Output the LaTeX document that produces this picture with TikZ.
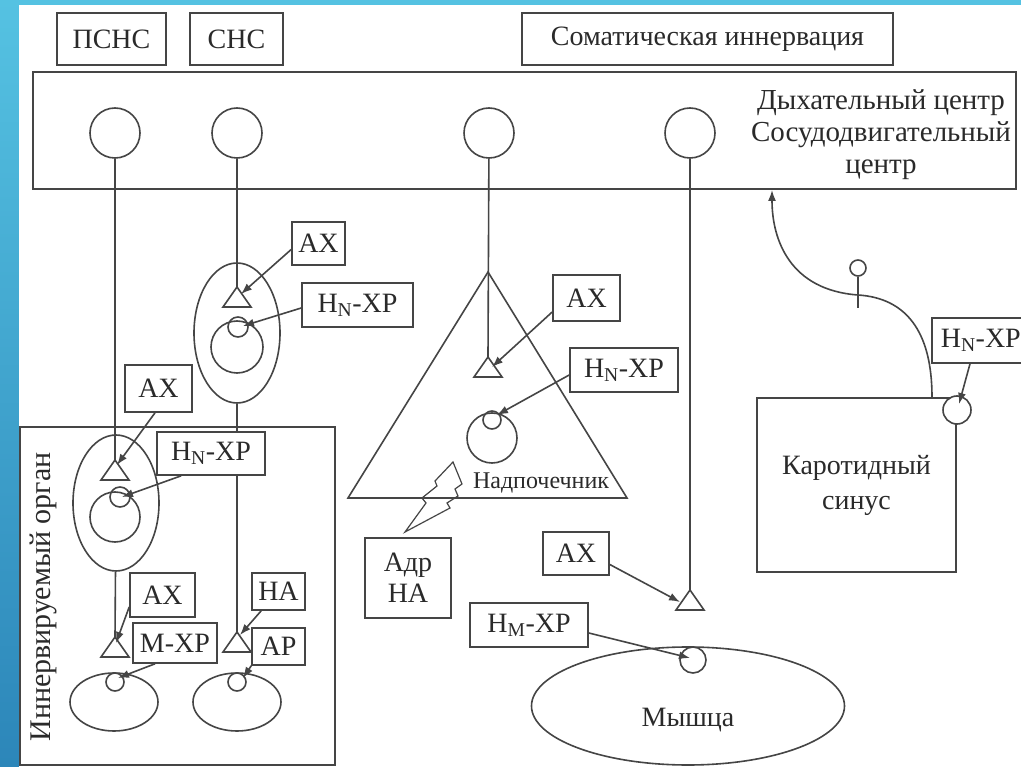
\documentclass[tikz,border=0pt]{standalone}
\usepackage{fontspec}
\setmainfont{Liberation Serif}
\usepackage{tikz}
\usetikzlibrary{calc,arrows,arrows.meta,shapes,positioning}
\definecolor{bgtop}{HTML}{55C2E2}
\definecolor{bgbot}{HTML}{2C86B9}
\definecolor{lgray}{HTML}{454545}
\definecolor{tgray}{HTML}{2A2A2A}
\newcommand{\lblfont}{\fontsize{28}{32}\selectfont}

\begin{document}
\begin{tikzpicture}[x=1pt,y=-1pt,
	wire/.style={draw=lgray,line width=1.6pt},
	box/.style={wire,text=tgray,inner sep=0pt,font=\lblfont},
	cell/.style={circle,wire,minimum size=50pt,inner sep=0pt},
	rec/.style={circle,wire,minimum size=20pt,inner sep=0pt},
	oval/.style={ellipse,wire,inner sep=0pt},
	arr/.style={wire,->,>={Latex[length=11pt,width=8pt]}}]
	
	\useasboundingbox (0,0) rectangle (1021,767);
	\shade[top color=bgtop,bottom color=bgbot] (0,0) rectangle (1021,767);
	\fill[white] (19,5) rectangle (1021,767);
	\clip (0,0) rectangle (1021,767);
	
	% centres
	\node[box,minimum width=109pt,minimum height=52pt] (psns) at (111.5,39) {ПСНС};
	\node[box,minimum width=93pt,minimum height=52pt] (sns) at (236.5,39) {СНС};
	\node[box,minimum width=371pt,minimum height=52pt] (som) at (707.5,39) {Соматическая иннервация};
	\node[box,minimum width=983pt,minimum height=117pt] (cns) at (524.5,130.5) {};
	\node[text=tgray,font=\fontsize{29}{32}\selectfont,align=center] (ctr) at (881,135) {Дыхательный центр\\Сосудодвигательный\\центр};
	
	\node[cell] (n1) at (115,133) {};
	\node[cell] (n2) at (237,133) {};
	\node[cell] (n3) at (489,133) {};
	\node[cell] (n4) at (690,133) {};
	
	% ganglia
	\node[oval,minimum width=86pt,minimum height=140pt] (g1) at (237,333) {};
	\node[cell,minimum size=52pt] (c1) at (237,347) {};
	\node[rec] (r1) at (238,327) {};
	\coordinate (t1) at (237,287);
	
	\node[box,minimum width=315pt,minimum height=338pt] (org) at (177.5,596) {};
	\node[text=tgray,font=\fontsize{30}{34}\selectfont,rotate=90] (orgname) at (43,597) {Иннервируемый орган};
	
	\node[oval,fill=white,minimum width=86pt,minimum height=136pt] (g2) at (116,503) {};
	\node[cell] (c2) at (115,517) {};
	\node[rec] (r2) at (120,497) {};
	\coordinate (t2) at (115,460);
	
	% effectors
	\coordinate (t3) at (115,637);
	\coordinate (t4) at (237,632);
	\node[oval,minimum width=88pt,minimum height=58pt] (e1) at (114,702) {};
	\node[oval,minimum width=88pt,minimum height=58pt] (e2) at (237,702) {};
	\node[rec,minimum size=18pt] (r3) at (115,682) {};
	\node[rec,minimum size=18pt] (r4) at (237,682) {};
	
	% adrenal
	\coordinate (apex) at (488,272);
	\coordinate (bright) at (627,498);
	\coordinate (bleft) at (348,498);
	\draw[wire] (apex) -- (bright) -- (bleft) -- cycle;
	\coordinate (t5) at (488,357);
	\node[cell] (c5) at (492,438) {};
	\node[rec,minimum size=18pt] (r5) at (492,420) {};
	\node[text=tgray,font=\fontsize{24}{28}\selectfont] (adrname) at (541,483) {Надпочечник};
	\node[box,align=center,minimum width=86pt,minimum height=80pt,font=\fontsize{28}{31}\selectfont] (adr) at (408,578) {Адр\\НА};
	\draw[wire,line width=1.2pt] (453,462) -- (462,484) -- (455,489) -- (458,496) -- (447,503) -- (450,508)
		-- (405,532) -- (426,503) -- (422,498) -- (437,486) -- (435,481) -- cycle;
	
	% muscle
	\coordinate (t6) at (690,590);
	\node[oval,minimum width=313pt,minimum height=118pt] (mus) at (688,706) {};
	\node[text=tgray,font=\lblfont] (musname) at (688,720) {Мышца};
	\node[rec,fill=white,minimum size=26pt] (r6) at (693,660) {};
	
	% carotid sinus
	\node[box,align=center,minimum width=199pt,minimum height=174pt,font=\fontsize{28}{35}\selectfont] (car) at (856.5,485) {Каротидный\\синус};
	\node[rec,fill=white,minimum size=28pt] (bar) at (957,410) {};
	\node[box,anchor=west,minimum height=45pt,inner xsep=9pt] (hn4) at (931,340.5) {Н\textsubscript{N}-ХР};
	\coordinate (sinus) at ([xshift=75.5pt]car.north);
	\coordinate (cin) at (772,190);
	\draw[arr] (sinus) .. controls (932,330) and (905,298) .. (858,295)
		.. controls (790,290) and (772,240) .. (cin);
	\node[circle,wire,minimum size=16pt,inner sep=0pt] (knob) at (858,268) {};
	\coordinate (kend) at (858,308);
	\draw[wire] (knob) -- (kend);
	
	% pathways
	\draw[wire] (n1) -- (t2);
	\draw[wire] (n2) -- (t1);
	\draw[wire] (g1) -- (t4);
	\draw[wire] (g2) -- (t3);
	\draw[wire] (n3) -- (t5);
	\draw[wire] (n4) -- (t6);
	\foreach \t in {t1,t2,t3,t4,t5,t6}
		\draw[wire,fill=white] (\t) -- ++(14,20) -- ++(-28,0) -- cycle;
	
	% labels
	\node[box,minimum width=53pt,minimum height=43pt] (ax1) at (318.5,243.5) {АХ};
	\node[box,minimum width=111pt,minimum height=44pt] (hn1) at (357.5,305) {Н\textsubscript{N}-ХР};
	\node[box,minimum width=67pt,minimum height=47pt] (ax2) at (158.5,388.5) {АХ};
	\node[box,fill=white,minimum width=108pt,minimum height=43pt] (hn2) at (211,453.5) {Н\textsubscript{N}-ХР};
	\node[box,minimum width=65pt,minimum height=44pt] (ax3) at (162.5,595) {АХ};
	\node[box,fill=white,minimum width=84pt,minimum height=40pt] (mx) at (175,643) {М-ХР};
	\node[box,minimum width=53pt,minimum height=37pt] (na) at (278.5,591.5) {НА};
	\node[box,fill=white,minimum width=53pt,minimum height=37pt] (ar) at (278.5,646.5) {АР};
	\node[box,minimum width=67pt,minimum height=46pt] (ax4) at (586.5,298) {АХ};
	\node[box,minimum width=108pt,minimum height=44pt] (hn3) at (624,370) {Н\textsubscript{N}-ХР};
	\node[box,minimum width=66pt,minimum height=43pt] (ax5) at (576,553.5) {АХ};
	\node[box,minimum width=118pt,minimum height=44pt] (hm) at (529,625) {Н\textsubscript{M}-ХР};
	
	\draw[arr] ([yshift=-6pt]ax1.west) -- ($(t1)+(4,7)$);
	\draw[arr] ([yshift=-3pt]hn1.west) -- ($(r1)+(5,-1)$);
	\draw[arr] ([xshift=-3.5pt]ax2.south) -- ($(t2)+(2,5)$);
	\draw[arr] ([xshift=25pt]hn2.south west) -- ($(r2)+(2,0)$);
	\draw[arr] ([yshift=-12pt]ax3.west) -- ($(t3)+(1,6)$);
	\draw[arr] ([xshift=-20pt]mx.south) -- ($(r3)+(3,-4)$);
	\draw[arr] ([xshift=10pt]na.south west) -- ($(t4)+(3,3)$);
	\draw[arr] (ar.south west) -- ($(r4)+(6,-4)$);
	\draw[arr] ([yshift=-14pt]ax4.west) -- ($(t5)+(4,10)$);
	\draw[arr] ([yshift=-5pt]hn3.west) -- ($(r5)+(5,-5)$);
	\draw[arr] ([yshift=-11pt]ax5.east) -- ($(t6)+(-10,12)$);
	\draw[arr] ([yshift=-8pt]hm.east) -- ($(r6)+(-3,-2)$);
	\draw[arr] ([xshift=39pt]hn4.south west) -- ($(bar)+(2,-6)$);
\end{tikzpicture}
\end{document}
